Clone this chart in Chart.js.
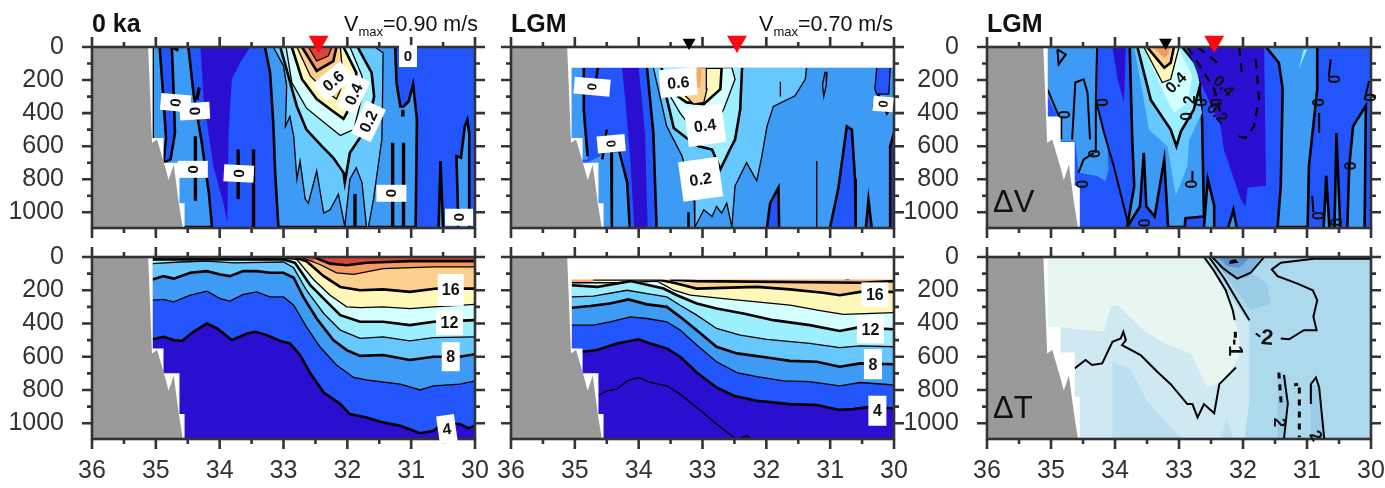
<!DOCTYPE html>
<html>
<head>
<meta charset="utf-8">
<script src="https://cdn.jsdelivr.net/npm/chart.js@4"></script>
<style>
  html, body { margin: 0; padding: 0; background: #fff; }
  body { width: 1385px; height: 488px; position: relative; overflow: hidden; font-family: "Liberation Sans", Arial, sans-serif; color: #111; }
  canvas { position: absolute; filter: blur(0.45px); }
  .title { position: absolute; top: 8px; font-weight: bold; font-size: 25px; line-height: 30px; }
  .vmax { position: absolute; top: 10px; font-size: 21.5px; line-height: 28px; text-align: right; }
  .vmax sub { font-size: 13px; line-height: 0; }
  .delta { position: absolute; left: 993px; font-size: 31px; line-height: 36px; }
</style>
</head>
<body>
<canvas id="p1" width="500" height="240" style="left:0;top:0"></canvas>
<canvas id="p2" width="500" height="240" style="left:419px;top:0"></canvas>
<canvas id="p3" width="490" height="240" style="left:895px;top:0"></canvas>
<canvas id="p4" width="500" height="248" style="left:0;top:240px"></canvas>
<canvas id="p5" width="500" height="248" style="left:419px;top:240px"></canvas>
<canvas id="p6" width="490" height="248" style="left:895px;top:240px"></canvas>
<div class="title" style="left:92px">0 ka</div>
<div class="title" style="left:511px">LGM</div>
<div class="title" style="left:987px">LGM</div>
<div class="vmax" style="right:907px">V<sub>max</sub>=0.90 m/s</div>
<div class="vmax" style="right:492px">V<sub>max</sub>=0.70 m/s</div>
<div class="delta" style="top:184px">ΔV</div>
<div class="delta" style="top:390px">ΔT</div>
<script>
// ── Axis ticks ────────────────────────────────────────────────
const lonTicks   = [36, 35, 34, 33, 32, 31, 30];
const depthTicks = [0, 200, 400, 600, 800, 1000];

// ── Sea floor and the area with no model data ─────────────────
const seaFloor   = [[36,0],[35.12,0],[35.06,580],[34.98,560],[34.84,745],[34.80,805],[34.72,713],[34.64,945],[34.575,1100],[36,1100]];
const noData0ka  = [[36,0],[35.05,0],[35.05,550],[34.88,550],[34.88,700],[34.63,700],[34.63,945],[34.55,945],[34.55,1100],[36,1100]];
const noDataV2   = [[36,0],[30,0],[30,125],[35.05,125],[35.05,550],[34.88,550],[34.88,700],[34.63,700],[34.63,945],[34.55,945],[34.55,1100],[36,1100]];
const noDataT2   = [[36,0],[30,0],[30,135],[35.05,135],[35.05,550],[34.88,550],[34.88,700],[34.63,700],[34.63,945],[34.55,945],[34.55,1100],[36,1100]];
const noDataDiff = [[36,0],[35.05,0],[35.05,420],[34.85,420],[34.85,575],[34.63,575],[34.63,840],[34.55,840],[34.55,1100],[36,1100]];
const wholeArea  = [[36,0],[30,0],[30,1100],[36,1100]];

// ── Panel 1: V at 0 ka ────────────────────────────────────────
const p1Left   = [[34.94,0],[34.88,320],[34.84,550],[34.88,700],[35.05,700],[35.05,0]];
const p1Shelf  = [[34.49,0],[34.41,280],[34.28,580],[34.17,880],[34.12,1090],[34.88,1090],[34.88,700],[34.77,680],[34.70,520],[34.72,280],[34.75,0]];
const p1Dark   = [[34.30,0],[33.52,0],[33.68,95],[33.81,195],[33.86,520],[33.88,1065],[33.94,945],[34.10,720],[34.25,320]];
const p1Zero   = [[33.29,0],[33.21,155],[33.16,460],[33.13,760],[33.08,1090],[30.93,1090],[30.91,440],[30.97,225],[31.04,330],[31.12,360],[31.17,360],[31.23,215],[31.25,0]];
const p1V01    = [[33.16,0],[33.00,115],[32.95,235],[32.97,480],[32.90,420],[32.84,540],[32.79,800],[32.74,690],[32.66,920],[32.61,945],[32.48,750],[32.37,1005],[32.27,985],[32.14,890],[32.04,1085],[31.96,800],[31.86,730],[31.77,820],[31.70,1090],[31.67,1090],[31.59,920],[31.46,560],[31.45,360],[31.44,35],[31.57,0]];
const p1V02    = [[33.05,0],[32.79,360],[32.64,500],[32.40,600],[32.22,670],[32.06,760],[32.04,820],[31.96,640],[31.77,530],[31.64,400],[31.58,300],[31.62,155],[31.84,0]];
const p1V03    = [[32.96,0],[32.87,215],[32.64,370],[32.32,470],[32.11,535],[31.90,500],[31.77,300],[31.77,175],[31.96,0]];
const p1V04    = [[32.87,0],[32.71,195],[32.48,315],[32.22,390],[32.06,435],[32.01,400],[31.88,275],[31.86,155],[32.06,0]];
const p1V05    = [[32.79,0],[32.58,175],[32.35,265],[32.17,315],[32.06,215],[32.11,0]];
const p1V06    = [[32.71,0],[32.48,145],[32.22,85],[32.17,0]];
const p1V07    = [[32.61,0],[32.48,85],[32.30,55],[32.24,0]];
const p1East1  = [[30.26,1090],[30.29,660],[30.22,670],[30.16,480],[30.12,440],[30.09,520],[30.09,1090]];
const p1East2  = [[30.57,1090],[30.54,690],[30.50,1090]];
const p1Lens   = [
  [[34.38,540],[34.38,930]], [[33.71,620],[33.71,920]], [[33.47,620],[33.47,1090]],
  [[31.88,890],[31.88,1090]], [[31.29,580],[31.29,1090]], [[31.12,580],[31.12,1090]],
  [[31.13,380],[31.13,420]], [[34.73,0],[34.65,20]], [[34.32,245],[34.36,320]]
];
const p1Labels = [[31.05,55,"0"],[34.69,337,"0"],[34.39,388,"0"],[34.42,740,"0"],[33.70,765,"0"],[31.31,885,"0"],[30.25,1030,"0"],[32.22,205,"0.6"],[31.90,285,"0.4"],[31.67,450,"0.2"]];

// ── Panel 2: V at LGM ─────────────────────────────────────────
const p2Left   = [[34.86,125],[34.86,480],[34.80,680],[35.05,680],[35.05,125]];
const p2Shelf  = [[34.11,1090],[34.18,820],[34.26,640],[34.39,640],[34.50,510],[34.60,660],[34.81,700],[34.81,1090]];
const p2Dark   = [[34.26,125],[34.00,125],[33.90,520],[33.86,1090],[34.07,1090],[34.13,680],[34.21,320]];
const p2Main   = [[33.87,125],[33.77,520],[33.72,1090],[30,1090],[30,125]];
const p2Tong1  = [[31.99,1090],[31.94,945],[31.81,850],[31.80,1090]];
const p2Tong2  = [[31.00,1090],[30.87,850],[30.74,480],[30.66,500],[30.61,800],[30.60,1090]];
const p2Tong3  = [[30.44,1090],[30.40,925],[30.35,1090]];
const p2Tong4  = [[30.06,1090],[30.06,600],[30.0,520],[30,1090]];
const p2Tong5  = [[30.27,125],[30.30,255],[30.27,285],[30.08,285],[30.06,125]];
const p2V01    = [[33.77,125],[33.56,480],[33.32,660],[33.13,930],[33.12,1090],[32.98,985],[32.85,1025],[32.78,965],[32.70,1005],[32.62,945],[32.54,1090],[32.49,840],[32.31,700],[32.15,810],[32.07,660],[31.99,480],[31.89,360],[31.55,295],[31.39,195],[31.37,125]];
const p2V02    = [[33.64,125],[33.56,310],[33.45,490],[33.25,550],[33.06,600],[32.85,620],[32.72,740],[32.57,620],[32.49,560],[32.41,380],[32.38,125]];
const p2V03    = [[33.51,295],[33.35,400],[33.19,480],[32.88,500],[32.67,380],[32.49,195],[32.54,125],[33.09,125]];
const p2V04    = [[33.40,295],[33.25,335],[32.98,345],[32.72,255],[32.70,125],[33.06,125]];
const p2V05    = [[33.27,295],[33.14,345],[32.98,335],[32.93,255],[32.94,125],[33.06,125]];
const p2V06    = [[33.09,125],[33.01,125],[33.04,245],[33.09,245]];
const p2Lines  = [
  [[33.87,125],[33.77,520],[33.72,1090]], [[34.86,125],[34.86,380],[34.80,660]], [[34.64,125],[34.70,290]],
  [[34.50,500],[34.57,680]], [[34.43,600],[34.42,1090]], [[34.31,620],[34.18,820],[34.14,1090]],
  [[33.22,1000],[33.22,1090]], [[30.32,360],[30.24,295],[30.11,400],[30.03,340]]
];
const p2Thin   = [
  [[31.05,150],[31.06,230],[31.10,300],[31.12,230],[31.08,150]], [[31.78,210],[31.78,300]], [[31.21,690],[31.21,1090]]
];
const p2Labels = [[33.38,215,"0.6"],[32.96,475,"0.4"],[33.03,800,"0.2"],[34.73,240,"0"],[30.17,345,"0"],[34.43,585,"0"]];

// ── Panel 3: V difference ─────────────────────────────────────
const p3Light1 = [[35.05,0],[34.28,0],[34.30,320],[34.12,600],[34.10,740],[34.15,810],[34.28,780],[34.57,760],[34.62,570],[34.88,570],[34.90,420],[35.05,300]];
const p3Dark1  = [[34.04,0],[33.83,0],[33.86,335],[33.96,195]];
const p3Main   = [[32.97,0],[32.69,195],[32.64,430],[32.61,1025],[32.90,1035],[32.91,1090],[33.81,1090],[33.70,840],[33.73,560],[33.77,0]];
const p3Lobes  = [[33.81,1090],[33.61,965],[33.55,640],[33.51,965],[33.38,1025],[33.23,680],[33.17,1090]];
const p3V01    = [[33.70,0],[33.55,320],[33.47,500],[33.18,600],[33.05,900],[32.87,720],[32.84,560],[32.64,400],[32.74,175],[33.00,0]];
const p3V02    = [[33.65,0],[33.44,320],[33.13,500],[33.04,600],[32.97,510],[32.77,380],[32.66,215],[32.71,115],[32.95,0]];
const p3V03    = [[33.55,0],[33.29,235],[33.08,400],[32.87,340],[32.79,175],[33.02,0]];
const p3V04    = [[33.55,0],[33.26,215],[33.13,195],[33.00,0]];
const p3V05    = [[33.50,0],[33.23,125],[33.13,95],[33.08,0]];
const p3V06    = [[33.42,0],[33.23,65],[33.17,45],[33.13,0]];
const p3Dark2  = [[32.87,0],[32.64,235],[32.35,480],[32.30,620],[32.03,925],[31.96,965],[31.93,850],[31.64,840],[31.67,0]];
const p3East   = [[30.84,0],[30.84,255],[30.97,720],[30.99,1090],[31.46,1090],[31.41,840],[31.38,255],[31.44,95],[31.64,0]];
const p3Tong1  = [[30.57,1090],[30.54,520],[30.48,1090]];
const p3Tong2  = [[30.74,1090],[30.70,780],[30.65,1090]];
const p3Tong3  = [[30.37,1090],[30.34,720],[30.28,480],[30.08,355],[30.10,1090]];
const p3Tong4  = [[32.61,1090],[32.55,800],[32.45,960],[32.45,1090]];
const p3Tong5  = [[32.23,1090],[32.15,985],[32.10,1090]];
const p3Sliver = [[31.05,15],[31.13,135],[31.00,15]];
const p3Lines  = [
  [[34.90,15],[34.77,45],[34.88,105],[34.90,15]], [[35.05,260],[34.92,380],[34.86,430]],
  [[34.67,560],[34.62,215],[34.49,195],[34.43,275],[34.39,560]], [[34.28,0],[34.30,320],[34.17,520],[34.02,720],[33.81,1045],[33.79,1090]],
  [[34.57,760],[34.49,680],[34.33,640]], [[34.84,420],[34.84,560]], [[34.30,330],[34.30,640]],
  [[30.81,400],[30.81,520]], [[30.63,75],[30.66,180]], [[30.92,900],[30.90,1000]], [[30.03,205],[30.10,320]],
  [[32.79,750],[32.79,810]]
];
const p3Dashed = [
  [[31.80,75],[31.75,315],[31.83,480],[31.96,550],[32.17,530]], [[32.06,0],[32.01,195]],
  [[32.87,0],[32.64,135],[32.45,255],[32.35,400]], [[32.71,0],[32.40,95]]
];
const p3Labels = [[34.80,410,"0"],[34.21,335,"0"],[34.33,645,"0"],[34.53,830,"0"],[33.55,1065,"0"],[32.82,830,"0"],[32.90,420,"0"],[32.66,335,"0"],[32.43,335,"0"],[30.84,335,"0"],[30.58,195,"0"],[30.03,305,"0"],[30.34,720,"0"],[30.84,1020,"0"],[30.56,1060,"0"],[33.05,215,"0.4"],[32.84,320,"2"],[32.30,235,"0.4"],[32.40,400,"0.2"]];

// ── Panel 4: T at 0 ka, isotherm depth ────────────────────────
const p4T20 = [[32.53,0],[32.27,40],[32.01,50],[31.70,35],[31.02,25],[30,25]];
const p4T18 = [[32.74,0],[32.43,45],[32.17,95],[31.90,105],[31.44,70],[30.65,60],[30,60]];
const p4T16 = [[32.84,0],[32.64,25],[32.37,115],[32.11,180],[31.80,200],[31.44,195],[31.02,210],[30.60,190],[30,190]];
const p4T14 = [[35.05,5],[33.00,5],[32.79,15],[32.53,135],[32.27,230],[32.01,300],[31.80,305],[31.44,300],[31.02,310],[30.65,300],[30,285]];
const p4T12 = [[35.05,15],[33.00,15],[32.82,35],[32.58,170],[32.32,270],[32.11,350],[31.80,390],[31.44,390],[31.02,410],[30.65,390],[30,380]];
const p4T10 = [[35.05,40],[34.62,30],[34.20,25],[33.78,35],[33.00,30],[32.84,65],[32.64,200],[32.37,340],[32.11,440],[31.80,490],[31.44,480],[31.02,505],[30.65,485],[30,480]];
const p4T8  = [[35.05,135],[34.88,115],[34.72,130],[34.46,95],[34.20,85],[33.99,105],[33.84,115],[33.63,85],[33.42,85],[33.21,95],[33.00,95],[32.84,125],[32.69,240],[32.48,370],[32.22,500],[32.01,560],[31.80,595],[31.44,590],[31.02,620],[30.65,600],[30.24,600],[30,585]];
const p4T6  = [[35.05,260],[34.88,255],[34.72,270],[34.46,230],[34.20,205],[33.99,250],[33.84,265],[33.63,225],[33.42,210],[33.21,240],[33.00,240],[32.84,290],[32.64,420],[32.43,540],[32.17,650],[31.90,725],[31.70,740],[31.17,765],[30.86,800],[30.65,775],[30.24,765],[30,745]];
const p4T4  = [[35.05,495],[34.88,480],[34.72,500],[34.59,505],[34.41,450],[34.20,400],[34.04,430],[33.81,500],[33.57,460],[33.44,450],[33.26,470],[33.05,505],[32.90,520],[32.74,590],[32.58,700],[32.37,815],[32.11,885],[31.96,945],[31.70,965],[31.44,995],[31.17,1015],[30.86,1060],[30.65,1045],[30.50,1000],[30.24,1005],[30.10,1030],[30,1015]];
const p4Top = [[35.05,4],[32.85,4]];
const p4Labels = [[30.38,198,"16"],[30.40,395,"12"],[30.38,600,"8"],[30.44,1035,"4"]];

// ── Panel 5: T at LGM, isotherm depth ─────────────────────────
const p5T18 = [[33.51,135],[33.09,145],[30.51,155],[30,145]];
const p5T16 = [[34.71,135],[33.71,135],[33.45,155],[33.09,190],[32.15,180],[31.63,195],[31.11,215],[30.85,230],[30.53,210],[30,210]];
const p5T14 = [[35.05,155],[34.24,155],[33.71,145],[33.45,200],[33.19,230],[32.67,250],[32.15,270],[31.63,290],[31.11,325],[30.79,345],[30,335]];
const p5T12 = [[35.05,170],[34.65,180],[34.13,145],[33.61,190],[33.40,230],[33.09,280],[32.78,310],[32.36,340],[31.89,380],[31.32,410],[30.85,445],[30.58,425],[30,435]];
const p5T10 = [[35.05,240],[34.71,235],[34.18,200],[33.87,220],[33.56,240],[33.35,290],[33.09,350],[32.78,430],[32.41,470],[31.99,495],[31.32,520],[30.85,545],[30.53,535],[30,540]];
const p5T8  = [[35.05,305],[34.76,295],[34.45,280],[34.16,255],[33.87,285],[33.56,300],[33.35,360],[33.09,440],[32.78,540],[32.46,580],[31.99,605],[31.63,625],[31.21,630],[30.85,660],[30.53,640],[30,645]];
const p5T6  = [[35.05,410],[34.71,410],[34.45,390],[34.13,360],[33.87,370],[33.56,390],[33.35,440],[33.09,530],[32.78,630],[32.46,695],[32.15,720],[31.73,745],[31.32,750],[30.85,775],[30.53,755],[30,770]];
const p5T4  = [[34.88,570],[34.65,560],[34.34,520],[34.00,495],[33.82,520],[33.56,550],[33.35,600],[33.09,695],[32.78,785],[32.51,835],[32.15,865],[31.63,885],[31.21,890],[30.85,920],[30.64,915],[30.43,905],[30,910]];
const p5T2  = [[34.63,835],[34.50,805],[34.34,795],[34.18,745],[34.00,725],[33.82,755],[33.56,775],[33.35,825],[33.09,905],[32.78,1005],[32.46,1100],[32.31,1075],[32.20,1100]];
const p5Dash = [[30.76,130],[30.70,130]];
const p5Labels = [[30.30,225,"16"],[30.37,435,"12"],[30.33,645,"8"],[30.26,925,"4"]];

// ── Panel 6: T difference ─────────────────────────────────────
const p6Light   = [[35.11,0],[32.61,0],[31.90,400],[31.90,865],[31.98,1100],[34.56,1100],[35.11,1100]];
const p6Mid1    = [[34.04,630],[33.76,675],[33.50,865],[33.13,1025],[32.92,1100],[34.04,1100]];
const p6Mid2    = [[32.35,1100],[32.26,965],[32.14,1100]];
const p6Pale    = [[35.2,0],[32.61,0],[32.40,100],[32.19,295],[32.06,480],[32.06,600],[32.30,745],[32.56,785],[32.82,580],[33.23,520],[33.55,440],[33.96,290],[34.07,300],[34.17,450],[34.70,430],[34.90,420],[35.2,420]];
const p6Cold1   = [[32.48,0],[32.19,160],[31.88,320],[31.57,280],[31.62,160],[31.88,95],[31.67,0]];
const p6Cold2   = [[32.48,0],[32.30,95],[32.14,125],[31.93,125],[31.72,0]];
const p6Cold3   = [[32.40,0],[32.24,55],[32.06,65],[31.88,0]];
const p6Cold4   = [[31.46,695],[31.31,705],[31.36,1100],[31.46,1100]];
const p6Cold5   = [[30.94,765],[30.81,780],[30.73,1100],[30.94,1100]];
const p6Lines   = [
  [[32.61,0],[32.45,85],[32.27,200],[32.16,320],[32.13,380]],
  [[32.53,0],[32.30,125],[32.09,260],[31.90,380]],
  [[32.48,0],[32.32,65],[32.09,130],[31.88,95],[31.67,0]],
  [[30,10],[30.89,10],[31.41,35],[31.55,75],[31.46,115],[31.15,160],[30.91,200],[30.84,260],[30.90,360],[30.85,440],[31.05,440],[31.28,495],[31.41,490]],
  [[34.63,670],[34.46,620],[34.36,650],[34.20,640],[34.04,510],[33.91,490],[33.87,450],[33.83,500],[33.89,530],[33.60,590],[33.34,690],[33.13,765],[32.87,885],[32.79,885],[32.71,965],[32.61,885],[32.45,940],[32.37,765],[32.11,665]],
  [[32.20,25],[32.12,20],[32.10,30],[32.20,35],[32.20,25]],
  [[31.36,710],[31.30,880],[31.36,1095]],
  [[30.94,885],[30.94,765],[30.86,725],[30.81,785],[30.73,1095]],
  [[31.80,460],[31.73,480]]
];
const p6Dashed  = [[[31.44,695],[31.40,900]],[[31.12,785],[31.12,1085]],[[31.20,770],[31.14,765]],[[32.12,450],[32.12,490]]];
const p6Labels  = [[32.12,545,"-1"],[31.62,485,"2"],[31.43,995,"2"],[30.86,1075,"2"]];

// ── Top-of-section position markers ───────────────────────────
const redMarkers   = [[32.45],[32.46],[32.45]];
const blackMarkers = [[],[33.21],[33.21]];

// ── Colours and line styles ───────────────────────────────────
const C_AXIS = "#333333", C_GREY = "#9a9a9a";
const C_DARK = "#2a0fd0", C_MED = "#2255fb", C_LIGHT = "#3d9bf5", C_V1 = "#66c8ff", C_V2 = "#9cefff";
const C_V3 = "#d4ffff", C_V4 = "#fff8b8", C_V5 = "#fbd08e", C_V6 = "#f59a62", C_V7 = "#d8463a";
const THICK = 2.6, THIN = 1.3;

const pts = (list) => list.map(([x, y]) => ({ x, y }));

// filled polygon, optional stroke along its open path
const area = (list, color, width = 0) => ({
  data: pts(list), showLine: true, pointRadius: 0, area: color,
  borderColor: width ? "#000" : "transparent", borderWidth: width,
});
const line = (list, width = THICK, dash = []) => ({
  data: pts(list), showLine: true, pointRadius: 0, borderColor: "#000", borderWidth: width, borderDash: dash,
});
// isotherm: everything below it takes the next colour
const iso = (list, color, width) => ({
  data: pts(list), showLine: true, pointRadius: 0, borderColor: "#000", borderWidth: width,
  fill: { value: 1100 }, backgroundColor: color,
});

// ── Plugins ───────────────────────────────────────────────────
function drawFrame(chart) {
  const { ctx, chartArea: a, scales: { x, y } } = chart;
  ctx.save();
  ctx.strokeStyle = C_AXIS;
  ctx.lineWidth = 2.6;
  ctx.strokeRect(a.left, a.top, a.right - a.left, a.bottom - a.top);
  ctx.beginPath();
  for (let v = 30; v <= 36; v += 0.5) {
    const px = x.getPixelForValue(v), len = Number.isInteger(v) ? 10 : 5;
    ctx.moveTo(px, a.top - len); ctx.lineTo(px, a.top);
    ctx.moveTo(px, a.bottom); ctx.lineTo(px, a.bottom + len);
  }
  for (let v = 0; v <= 1000; v += 100) {
    const py = y.getPixelForValue(v), len = v % 200 === 0 ? 10 : 5;
    ctx.moveTo(a.left - len, py); ctx.lineTo(a.left, py);
    ctx.moveTo(a.right, py); ctx.lineTo(a.right + len, py);
  }
  ctx.stroke();
  ctx.restore();
}

const sectionPlugin = {
  id: "section",
  beforeDatasetDraw(chart, args) {
    const ds = chart.data.datasets[args.index];
    if (ds.marks) drawFrame(chart);
    if (!ds.area) return;
    const { ctx, chartArea: a } = chart;
    ctx.save();
    ctx.beginPath();
    ctx.rect(a.left, a.top, a.right - a.left, a.bottom - a.top);
    ctx.clip();
    ctx.beginPath();
    args.meta.data.forEach((p, i) => (i ? ctx.lineTo(p.x, p.y) : ctx.moveTo(p.x, p.y)));
    ctx.closePath();
    ctx.fillStyle = ds.area;
    ctx.fill();
    ctx.restore();
  },
  afterDatasetsDraw(chart, _args, opts) {
    const { ctx, scales: { x, y } } = chart;
    (opts.labels || []).forEach(([lon, depth, text], i) => {
      const st = opts.styles[i];
      ctx.save();
      ctx.translate(x.getPixelForValue(lon), y.getPixelForValue(depth));
      ctx.rotate((st.box || 0) * Math.PI / 180);
      if (st.w) {
        ctx.fillStyle = "#fff";
        ctx.fillRect(-st.w / 2, -st.h / 2, st.w, st.h);
      }
      ctx.rotate((st.text || 0) * Math.PI / 180);
      ctx.fillStyle = "#111";
      ctx.font = `bold ${st.size || 16}px "Liberation Sans", Arial, sans-serif`;
      ctx.textAlign = "center";
      ctx.textBaseline = "middle";
      ctx.fillText(text, 0, 1);
      ctx.restore();
    });
  },
};

// ── Chart factory ─────────────────────────────────────────────
function section(id, cfg) {
  const layers = [...cfg.layers];
  // marker dataset goes last, frame is painted just before it
  const which = cfg.marker;
  layers.push({
    data: which === undefined ? [] : redMarkers[which].map((x) => ({ x, y: -33 })),
    marks: true, pointStyle: "triangle", rotation: 180, pointRadius: 11.5, clip: false,
    backgroundColor: "#fb0a14", borderColor: "#fb0a14", borderWidth: 0,
  });
  layers.push({
    data: which === undefined ? [] : blackMarkers[which].map((x) => ({ x, y: -27 })),
    pointStyle: "triangle", rotation: 180, pointRadius: 7.5, clip: false,
    backgroundColor: "#000", borderColor: "#000", borderWidth: 0,
  });
  layers.forEach((d, i) => { d.order = layers.length - i; });

  return new Chart(document.getElementById(id), {
    type: "scatter",
    data: { datasets: layers },
    plugins: [sectionPlugin],
    options: {
      responsive: false,
      animation: false,
      events: [],
      layout: { padding: { top: cfg.top, left: 0, right: cfg.right, bottom: 0 } },
      elements: { line: { tension: 0 } },
      plugins: {
        legend: { display: false },
        tooltip: { enabled: false },
        section: { labels: cfg.labels, styles: cfg.styles },
      },
      scales: {
        x: {
          type: "linear", reverse: true, min: lonTicks[lonTicks.length - 1], max: lonTicks[0],
          grid: { display: false }, border: { display: false },
          ticks: { display: !!cfg.xLabels, stepSize: 1, padding: 9, color: C_AXIS, maxRotation: 0, font: { size: 25, family: "'Liberation Sans', Arial, sans-serif" } },
          afterFit: (s) => { s.height = cfg.xHeight; s.paddingLeft = 0; s.paddingRight = 0; },
        },
        y: {
          type: "linear", reverse: true, min: depthTicks[0], max: 1095,
          grid: { display: false }, border: { display: false },
          ticks: {
            display: !!cfg.yLabels, stepSize: 200, includeBounds: false, autoSkip: false, padding: 20, color: C_AXIS,
            font: { size: 25, family: "'Liberation Sans', Arial, sans-serif" },
            callback: (v) => String(v),
          },
          afterFit: (s) => { s.width = 92; s.paddingTop = 0; s.paddingBottom = 0; },
        },
      },
    },
  });
}

const ZERO = { w: 30, h: 17, text: 90, size: 15 };
const RING = { text: 90, size: 16 };

section("p1", {
  top: 47, right: 25, xHeight: 12, yLabels: true, marker: 0, labels: p1Labels,
  styles: [
    { w: 18, h: 22, size: 15 }, { ...ZERO, box: 5 }, { ...ZERO, box: -3 }, ZERO, { ...ZERO, box: 3 }, ZERO, { ...ZERO, w: 28 },
    { w: 36, h: 22, box: -40 }, { w: 36, h: 20, box: -65 }, { w: 36, h: 22, box: -65 },
  ],
  layers: [
    area(wholeArea, C_MED), area(p1Left, C_LIGHT, THICK), area(p1Shelf, C_LIGHT, THICK), area(p1Dark, C_DARK),
    area(p1Zero, C_LIGHT, THICK), area(p1East1, C_LIGHT, THICK), area(p1East2, C_LIGHT, THICK),
    area(p1V01, C_V1, THIN), area(p1V02, C_V2, THICK), area(p1V03, C_V3, THIN), area(p1V04, C_V4, THICK),
    area(p1V05, C_V5, THIN), area(p1V06, C_V6, THICK), area(p1V07, C_V7, THIN),
    ...p1Lens.map((l) => line(l, 3.4)),
    area(noData0ka, "#fff"), area(seaFloor, C_GREY),
  ],
});

section("p2", {
  top: 47, right: 25, xHeight: 12, marker: 1, labels: p2Labels,
  styles: [
    { w: 37, h: 28, box: -5 }, { w: 38, h: 38, box: -8 }, { w: 40, h: 40, box: -8 },
    { w: 36, h: 17, box: 5, text: 90, size: 13 }, { w: 20, h: 15, box: 5, text: 90, size: 13 }, { w: 28, h: 17, box: -5, text: 90, size: 13 },
  ],
  layers: [
    area(wholeArea, C_MED), area(p2Left, C_LIGHT), area(p2Shelf, C_LIGHT), area(p2Dark, C_DARK), area(p2Main, C_LIGHT),
    area(p2Tong1, C_MED, THICK), area(p2Tong2, C_MED, THICK), area(p2Tong3, C_MED, THICK), area(p2Tong4, C_MED, THICK), area(p2Tong5, C_MED, THIN),
    area(p2V01, C_V1, THIN), area(p2V02, C_V2, THICK), area(p2V03, C_V3, THIN), area(p2V04, C_V4, THICK), area(p2V05, C_V5, THIN), area(p2V06, "#f7a868"),
    ...p2Lines.map((l) => line(l)), ...p2Thin.map((l) => line(l, THIN)),
    area(noDataV2, "#fff"), area(seaFloor, C_GREY),
  ],
});

section("p3", {
  top: 47, right: 14, xHeight: 12, yLabels: true, marker: 2, labels: p3Labels,
  styles: [
    RING, RING, RING, RING, RING, RING, RING, RING, RING, RING, RING, RING, RING, RING, RING,
    { box: -45, size: 16 }, { box: -90, size: 16 }, { box: 45, size: 16 }, { box: 45, size: 16 },
  ],
  layers: [
    area(wholeArea, C_MED), area(p3Light1, C_LIGHT), area(p3Dark1, C_DARK), area(p3Main, C_LIGHT, THICK), area(p3Lobes, C_MED, THICK),
    area(p3V01, C_V1), area(p3V02, C_V2, THICK), area(p3V03, C_V3), area(p3V04, C_V4, THIN), area(p3V05, C_V5, THICK), area(p3V06, C_V6),
    area(p3Dark2, C_DARK), area(p3East, C_LIGHT, THICK), area(p3Sliver, C_V2),
    area(p3Tong1, C_LIGHT, THICK), area(p3Tong2, C_LIGHT, THICK), area(p3Tong3, C_LIGHT, THICK), area(p3Tong4, C_LIGHT, THICK), area(p3Tong5, C_LIGHT, THICK),
    ...p3Lines.map((l) => line(l, 2)), ...p3Dashed.map((l) => line(l, 2.2, [9, 7])),
    area(noDataDiff, "#fff"), area(seaFloor, C_GREY),
  ],
});

section("p4", {
  top: 17, right: 25, xHeight: 49, xLabels: true, yLabels: true, labels: p4Labels,
  styles: [{ w: 26, h: 32 }, { w: 27, h: 25 }, { w: 18, h: 29 }, { w: 18, h: 28, box: -8 }],
  layers: [
    area(wholeArea, C_V7), iso(p4T20, C_V6, THICK), iso(p4T18, C_V5, THIN), iso(p4T16, C_V4, THICK), iso(p4T14, C_V3, THIN),
    iso(p4T12, C_V2, THICK), iso(p4T10, C_V1, THIN), iso(p4T8, C_LIGHT, THICK), iso(p4T6, C_MED, THIN), iso(p4T4, C_DARK, THICK),
    line(p4Top, 3),
    area(noData0ka, "#fff"), area(seaFloor, C_GREY),
  ],
});

section("p5", {
  top: 17, right: 25, xHeight: 49, xLabels: true, labels: p5Labels,
  styles: [{ w: 27, h: 24 }, { w: 27, h: 28 }, { w: 18, h: 30 }, { w: 18, h: 30 }],
  layers: [
    area(wholeArea, "#f7a868"), iso(p5T18, C_V5, THICK), iso(p5T16, C_V4, THICK), iso(p5T14, C_V3, THIN), iso(p5T12, C_V2, THICK),
    iso(p5T10, C_V1, THIN), iso(p5T8, C_LIGHT, THICK), iso(p5T6, C_MED, THIN), iso(p5T4, C_DARK, THICK), line(p5T2, THIN), line(p5Dash, 3),
    area(noDataT2, "#fff"), area(seaFloor, C_GREY),
  ],
});

section("p6", {
  top: 17, right: 14, xHeight: 49, xLabels: true, yLabels: true, labels: p6Labels,
  styles: [{ text: 90, size: 20 }, { size: 22, box: 5 }, { text: 90, size: 17 }, { text: 60, size: 17 }],
  layers: [
    area(wholeArea, "#add9ed"), area(p6Light, "#cfe9f3"), area(p6Mid1, "#bcdff0"), area(p6Mid2, "#bcdff0"), area(p6Pale, "#e8f6f2"),
    area(p6Cold1, "#9ccbe6"), area(p6Cold2, "#7eb5de"), area(p6Cold3, "#5b93cc"), area(p6Cold4, "#9ccbe6"), area(p6Cold5, "#9ccbe6"),
    ...p6Lines.map((l) => line(l, 2)), ...p6Dashed.map((l) => line(l, 3, [6, 6])),
    area(noDataDiff, "#fff"), area(seaFloor, C_GREY),
  ],
});
</script>
</body>
</html>
